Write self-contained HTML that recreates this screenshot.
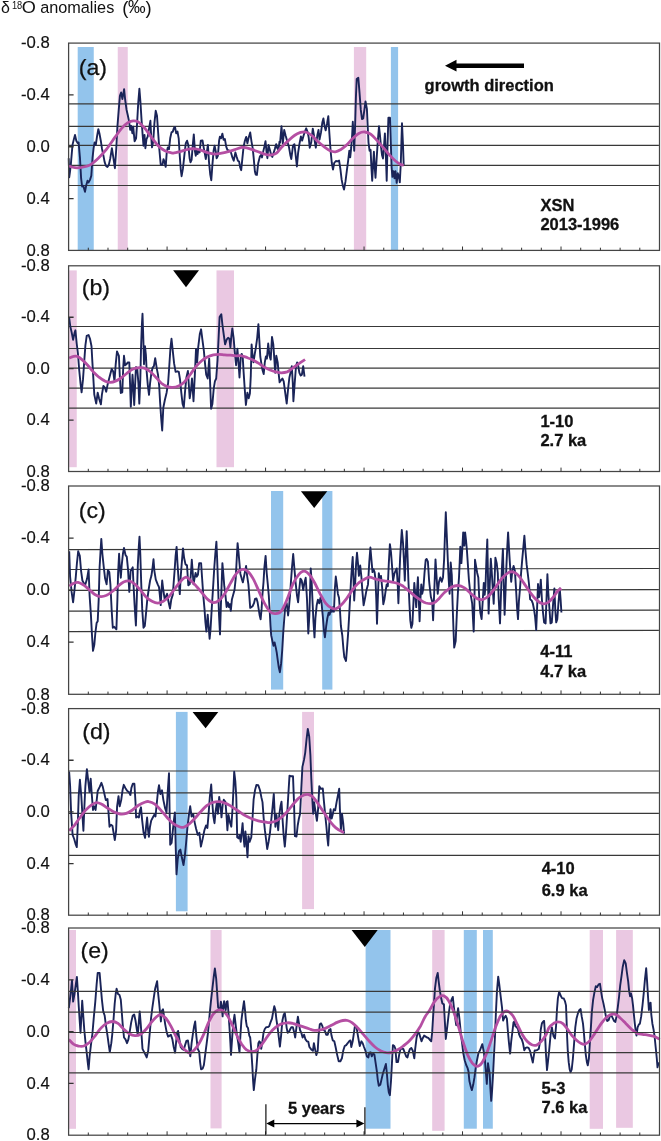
<!DOCTYPE html>
<html><head><meta charset="utf-8"><title>d18O anomalies</title>
<style>
html,body{margin:0;padding:0;background:#fff;}
svg{display:block;will-change:transform;opacity:0.999;}
text{font-family:"Liberation Sans",sans-serif;fill:#111;}
.b{font-weight:bold;font-size:16.5px;stroke:#111;stroke-width:0.3px;}
.y{font-size:16px;text-anchor:end;stroke:#111;stroke-width:0.15px;}
.p{font-size:22px;stroke:#111;stroke-width:0.25px;}
</style></head><body>
<svg width="661" height="1141" viewBox="0 0 661 1141">
<rect x="0" y="0" width="661" height="1141" fill="#ffffff"/>
<text x="0.9" y="13.3" font-size="16">δ</text><text x="11.9" y="8.5" font-size="10.6" textLength="10.3" lengthAdjust="spacingAndGlyphs">18</text><text x="21.7" y="13.3" font-size="15.6" textLength="14.1" lengthAdjust="spacingAndGlyphs">O</text><text x="40.2" y="13.3" font-size="16.25">anomalies</text>
<text y="13.6" font-size="18.4" fill="#3a3a3a"><tspan x="122.2">(</tspan><tspan x="128.0" font-size="17.6" dy="-0.2">‰</tspan><tspan x="145.6" dy="0.2">)</tspan></text>
<rect x="77.70" y="47.00" width="16.05" height="203.00" fill="#93c4ec"/>
<rect x="117.75" y="47.00" width="10.00" height="203.00" fill="#eac8e2"/>
<rect x="353.90" y="47.00" width="12.30" height="203.00" fill="#eac8e2"/>
<rect x="390.90" y="47.00" width="7.20" height="203.00" fill="#93c4ec"/>
<line x1="68.6" y1="103.8" x2="658.9" y2="103.8" stroke="#383838" stroke-width="1.2"/>
<line x1="68.6" y1="126.3" x2="658.9" y2="126.3" stroke="#383838" stroke-width="1.2"/>
<line x1="68.6" y1="145.4" x2="658.9" y2="145.4" stroke="#383838" stroke-width="1.2"/>
<line x1="68.6" y1="165.4" x2="658.9" y2="165.4" stroke="#383838" stroke-width="1.2"/>
<line x1="68.6" y1="185.5" x2="658.9" y2="185.5" stroke="#383838" stroke-width="1.2"/>
<polyline points="68.7,158.2 69.2,177.4 70.0,171.5 70.8,164.9 72.5,144.9 73.7,139.9 75.0,134.9 76.3,140.7 77.5,142.9 78.6,142.4 80.0,158.2 81.1,178.2 82.1,186.5 83.3,185.7 85.0,191.8 86.3,184.9 87.5,180.7 88.6,182.4 90.0,179.9 91.3,175.7 92.5,158.2 93.6,148.2 94.6,142.4 95.8,144.9 97.0,136.6 98.3,129.1 99.4,133.3 100.8,140.7 101.9,148.2 103.3,154.9 104.6,161.9 105.9,165.7 107.4,166.9 108.8,164.9 110.3,158.2 111.9,148.2 113.3,157.4 114.9,168.2 116.3,148.2 117.4,126.6 118.6,111.6 119.9,95.8 121.1,92.5 122.4,99.1 124.1,89.2 125.2,100.0 126.6,110.0 127.9,115.8 129.1,121.6 130.2,129.9 131.2,125.8 132.4,133.3 133.2,126.6 134.6,141.2 136.1,138.3 137.1,123.3 138.2,103.3 139.4,88.7 140.4,101.6 141.6,120.8 142.7,135.8 143.5,145.7 144.5,134.9 145.4,148.2 146.5,139.1 147.7,136.6 149.0,128.6 150.4,120.8 151.2,136.6 152.0,147.4 153.2,141.6 154.4,123.3 155.7,110.8 157.0,115.8 158.2,133.3 159.4,149.9 160.7,164.5 162.4,164.9 163.5,159.1 164.4,161.6 165.7,166.9 166.8,151.6 167.8,147.4 169.0,149.1 170.2,138.3 171.5,132.4 172.8,131.6 174.0,127.9 175.0,126.9 176.2,133.3 177.5,131.6 178.7,138.3 179.7,154.9 180.8,169.9 181.6,176.2 183.0,168.2 184.6,153.2 185.8,143.2 187.1,140.7 188.3,144.9 189.6,158.2 190.5,162.4 191.6,159.9 192.8,144.9 193.8,134.4 195.0,151.6 195.8,155.7 196.6,150.7 197.6,154.1 198.6,150.2 199.6,152.4 200.8,140.7 202.5,140.4 203.8,148.2 204.9,154.1 205.8,159.1 206.9,151.6 207.9,144.9 209.1,163.2 210.3,174.9 211.3,180.2 212.4,164.9 213.6,150.7 214.6,145.7 215.8,151.6 216.6,158.2 217.9,155.7 219.1,140.7 219.9,136.6 221.1,138.3 222.4,133.6 223.6,139.9 224.9,139.1 226.2,146.6 227.4,149.9 229.1,150.7 230.7,151.6 232.4,157.4 233.7,160.7 235.4,152.4 236.6,156.6 237.9,160.7 239.1,161.6 240.2,167.4 241.2,170.2 242.4,158.2 243.6,146.6 244.9,140.7 246.2,136.9 247.4,143.2 248.5,138.3 250.2,132.4 251.5,141.6 252.7,148.2 253.7,158.2 254.9,171.5 255.7,174.5 256.9,174.9 258.2,163.2 259.9,156.6 261.0,154.9 262.0,157.4 263.2,151.6 264.4,146.6 265.5,141.2 266.5,151.6 267.4,158.2 268.5,144.9 269.9,149.9 271.2,154.9 272.3,156.9 273.5,153.2 274.8,149.1 276.2,144.1 277.3,148.2 278.5,149.9 279.5,141.6 280.1,142.6 281.5,126.3 282.8,143.6 284.2,130.0 285.6,135.5 287.3,141.6 288.9,146.7 290.3,154.9 291.3,159.0 293.0,145.7 294.4,144.2 295.4,152.8 296.9,166.5 298.1,152.8 299.5,143.6 300.9,136.5 302.2,140.6 303.6,135.5 305.0,131.4 306.2,128.3 307.7,132.4 308.7,137.5 309.7,147.7 311.2,142.6 312.8,128.7 313.8,134.4 314.8,141.6 315.8,147.7 317.3,135.5 318.5,130.0 319.5,139.6 321.0,132.4 322.4,122.2 323.4,118.5 324.6,126.3 325.7,130.4 327.1,123.2 328.3,116.1 329.3,132.4 330.6,150.8 331.8,163.0 333.0,169.6 334.2,163.0 335.9,161.0 337.5,161.4 339.1,160.6 340.4,169.2 341.6,179.4 342.8,185.5 344.0,189.6 345.5,181.4 346.9,170.2 348.1,161.0 349.3,150.8 350.2,157.3 351.2,147.7 352.2,134.4 352.8,121.8 353.6,136.5 354.2,150.8 355.1,126.3 355.9,97.7 356.7,78.9 358.3,77.7 359.6,93.6 360.8,109.9 362.0,119.1 363.2,118.5 364.5,108.9 365.5,101.4 366.9,108.9 367.7,126.3 368.5,142.6 369.6,150.8 370.6,149.8 371.4,167.1 372.2,180.8 373.2,163.0 373.9,151.8 374.7,167.1 375.5,177.7 376.5,161.0 377.7,142.6 379.0,126.3 380.0,135.5 381.0,146.7 382.0,154.9 383.0,158.5 384.1,144.7 384.9,133.4 385.9,156.9 386.7,180.8 387.5,146.7 388.4,117.7 390.0,117.7 390.8,142.6 391.6,167.1 392.4,176.9 393.5,171.2 394.5,178.4 395.5,171.2 396.7,182.9 397.8,173.3 398.8,176.3 399.8,182.4 400.8,163.0 401.4,142.6 402.0,123.2 402.9,142.6 403.7,165.1" fill="none" stroke="#1a2458" stroke-width="1.9" stroke-linejoin="round"/>
<path d="M68.7 166.0C69.7 166.3 72.8 167.5 75.0 167.7C77.1 167.9 79.1 167.8 81.6 167.4C84.1 166.9 87.2 166.4 90.0 164.9C92.7 163.4 95.5 160.9 98.3 158.2C101.1 155.6 103.8 152.5 106.6 149.1C109.4 145.6 112.4 140.9 114.9 137.4C117.4 134.0 119.4 130.8 121.6 128.3C123.8 125.8 126.3 123.7 128.2 122.4C130.2 121.2 131.6 120.9 133.2 120.8C134.9 120.7 136.3 120.7 138.2 121.9C140.2 123.2 142.7 125.7 144.9 128.3C147.1 130.8 149.3 134.5 151.5 137.4C153.8 140.3 156.0 143.5 158.2 145.7C160.4 148.0 162.6 149.5 164.9 150.7C167.1 151.9 170.0 152.5 171.5 152.9C173.1 153.3 172.7 153.1 174.2 152.9C175.6 152.7 177.9 152.1 180.0 151.6C182.1 151.0 184.4 150.0 186.6 149.6C188.9 149.1 191.1 148.7 193.3 148.7C195.5 148.8 197.5 149.2 200.0 149.9C202.5 150.6 205.8 152.2 208.3 152.9C210.8 153.6 212.7 154.0 214.9 154.1C217.2 154.1 219.4 153.6 221.6 153.2C223.8 152.8 226.0 152.2 228.2 151.6C230.5 151.0 232.7 150.3 234.9 149.6C237.1 148.9 239.6 147.7 241.6 147.4C243.5 147.1 244.6 147.5 246.6 147.9C248.5 148.3 251.0 149.2 253.2 149.9C255.4 150.7 257.6 151.6 259.9 152.4C262.1 153.2 264.6 154.1 266.5 154.6C268.5 155.0 269.9 155.1 271.5 154.9C273.2 154.7 274.9 154.4 276.5 153.2C278.1 152.0 279.3 149.7 281.1 147.7C282.9 145.8 285.0 143.6 287.3 141.6C289.5 139.6 292.2 137.0 294.4 135.5C296.6 133.9 298.7 133.0 300.5 132.4C302.4 131.8 303.8 131.5 305.6 132.0C307.5 132.5 309.7 133.9 311.8 135.5C313.8 137.1 315.8 139.7 317.9 141.6C319.9 143.5 322.0 145.2 324.0 146.7C326.1 148.2 328.3 149.9 330.1 150.8C332.0 151.6 333.6 152.0 335.3 151.8C337.0 151.6 338.5 150.9 340.4 149.8C342.2 148.6 344.4 146.9 346.5 145.1C348.5 143.2 350.6 140.5 352.6 138.5C354.7 136.6 356.7 134.5 358.7 133.4C360.8 132.3 362.8 131.8 364.9 132.0C366.9 132.2 369.0 133.0 371.0 134.4C373.0 135.9 375.1 138.4 377.1 140.6C379.2 142.8 381.2 145.3 383.3 147.7C385.3 150.1 387.3 152.7 389.4 154.9C391.4 157.1 393.6 159.4 395.5 161.0C397.4 162.6 399.3 163.8 400.6 164.5C402.0 165.1 403.2 165.0 403.7 165.1" fill="none" stroke="#b54fa3" stroke-width="2.8" stroke-linecap="butt" stroke-linejoin="round"/>
<rect x="68.6" y="43.1" width="590.9" height="207.3" fill="none" stroke="#454545" stroke-width="1.25"/>
<path d="M88.30 250.4v-2.7M107.99 250.4v-2.7M127.69 250.4v-2.7M147.39 250.4v-2.7M167.08 250.4v-3.9M186.78 250.4v-2.7M206.48 250.4v-2.7M226.17 250.4v-2.7M245.87 250.4v-2.7M265.57 250.4v-3.9M285.26 250.4v-2.7M304.96 250.4v-2.7M324.66 250.4v-2.7M344.35 250.4v-2.7M364.05 250.4v-3.9M383.75 250.4v-2.7M403.44 250.4v-2.7M423.14 250.4v-2.7M442.84 250.4v-2.7M462.53 250.4v-3.9M482.23 250.4v-2.7M501.93 250.4v-2.7M521.62 250.4v-2.7M541.32 250.4v-2.7M561.02 250.4v-3.9M580.71 250.4v-2.7M600.41 250.4v-2.7M620.11 250.4v-2.7M639.80 250.4v-2.7" stroke="#333" stroke-width="1" fill="none"/>
<path d="M68.6 94.93h5M68.6 146.75h5M68.6 198.58h5" stroke="#333" stroke-width="1.3" fill="none"/>
<text class="y" x="49.8" y="48.0" textLength="28.8" lengthAdjust="spacingAndGlyphs">-0.8</text>
<text class="y" x="49.8" y="100.0" textLength="28.8" lengthAdjust="spacingAndGlyphs">-0.4</text>
<text class="y" x="49.8" y="152.0" textLength="23.2" lengthAdjust="spacingAndGlyphs">0.0</text>
<text class="y" x="49.8" y="204.0" textLength="23.2" lengthAdjust="spacingAndGlyphs">0.4</text>
<text class="y" x="49.8" y="256.0" textLength="23.2" lengthAdjust="spacingAndGlyphs">0.8</text>
<text class="p" x="78.7" y="74.7" textLength="28.3" lengthAdjust="spacingAndGlyphs">(a)</text>
<text class="b" x="540.4" y="211" font-size="16.5">XSN</text>
<text class="b" x="540.4" y="230" font-size="16.5">2013-1996</text>
<rect x="69.20" y="270.40" width="7.55" height="196.80" fill="#eac8e2"/>
<rect x="216.50" y="270.40" width="17.50" height="196.80" fill="#eac8e2"/>
<line x1="68.6" y1="326.5" x2="658.9" y2="326.5" stroke="#383838" stroke-width="1.2"/>
<line x1="68.6" y1="348.5" x2="658.9" y2="348.5" stroke="#383838" stroke-width="1.2"/>
<line x1="68.6" y1="368.1" x2="658.9" y2="368.1" stroke="#383838" stroke-width="1.2"/>
<line x1="68.6" y1="388.1" x2="658.9" y2="388.1" stroke="#383838" stroke-width="1.2"/>
<line x1="68.6" y1="408.1" x2="658.9" y2="408.1" stroke="#383838" stroke-width="1.2"/>
<polyline points="69.2,318.0 70.3,326.5 71.6,332.1 73.1,339.7 74.5,333.1 75.4,330.3 76.7,343.5 77.9,353.0 79.2,370.0 80.5,383.2 81.6,392.3 83.0,379.4 84.3,360.5 85.4,345.4 86.7,335.9 88.6,335.0 90.0,338.8 91.5,346.3 92.4,362.4 93.4,379.4 94.3,394.6 96.2,403.6 97.7,392.7 99.0,398.3 100.9,404.4 101.9,394.6 103.4,386.0 105.1,387.9 106.2,391.7 107.5,385.1 108.9,379.4 110.4,373.8 111.7,369.0 113.2,371.5 114.5,381.3 115.7,364.3 117.0,351.4 118.9,355.8 119.8,375.6 120.8,393.0 122.3,392.3 123.2,368.1 124.0,355.8 125.1,365.2 126.5,364.3 127.8,362.4 129.3,362.4 130.1,385.1 130.8,406.8 131.8,388.9 132.5,374.7 133.5,388.9 134.2,405.0 135.2,383.2 135.9,367.1 137.2,368.1 138.4,383.2 139.3,403.6 140.3,379.4 141.0,349.2 141.8,326.5 142.5,313.8 143.3,337.8 144.0,364.3 145.0,346.3 145.9,354.8 146.7,371.9 147.8,385.1 149.0,394.9 150.1,383.2 151.4,372.8 152.6,367.7 153.9,366.2 155.2,358.2 156.7,368.1 158.0,374.7 159.2,386.0 160.1,402.1 161.1,417.2 162.2,430.5 163.3,407.8 164.8,400.2 166.6,392.7 168.1,383.2 169.4,364.3 170.5,347.3 171.5,338.8 172.8,351.1 174.1,363.4 175.6,371.9 177.5,371.3 178.8,371.9 180.0,379.4 181.3,392.7 182.6,404.0 183.8,407.4 185.1,390.8 186.4,377.5 187.9,370.9 189.7,398.3 191.1,388.9 192.0,378.5 193.5,401.2 194.8,375.6 196.0,349.2 197.1,362.4 198.2,347.3 199.8,334.0 201.1,329.3 202.4,339.7 203.9,351.1 204.9,362.4 206.2,374.7 207.7,378.5 209.2,358.6 210.2,385.1 211.1,408.7 212.4,404.0 213.7,388.9 214.9,381.3 216.2,378.5 217.5,360.5 218.7,335.9 219.6,317.0 221.3,314.2 222.4,324.6 223.8,335.0 225.1,344.4 226.6,339.7 228.1,337.8 229.4,338.8 230.4,347.3 231.3,336.9 232.3,328.4 233.6,337.8 234.7,351.1 236.1,365.2 237.4,348.8 238.5,362.4 239.5,377.5 240.8,356.7 241.7,353.9 242.7,356.7 243.6,371.9 244.6,387.0 245.9,405.0 247.4,392.7 248.7,398.3 249.9,393.6 250.8,375.6 251.6,344.4 252.5,354.8 253.5,362.4 254.6,354.8 255.9,347.3 257.2,337.8 258.4,324.2 259.3,339.7 260.3,356.7 261.2,362.4 262.5,370.0 263.7,374.1 264.8,362.4 265.9,356.4 266.9,358.6 268.2,343.5 269.5,355.8 270.7,359.6 272.0,336.9 273.3,344.4 274.3,358.6 275.2,372.8 276.3,355.8 277.7,362.4 278.6,372.8 279.6,382.3 280.9,380.4 282.4,378.5 283.7,381.3 285.2,392.7 286.7,403.6 288.1,388.9 289.4,377.5 290.9,370.9 291.8,366.2 292.8,383.2 293.4,401.2 294.7,383.2 296.0,366.2 297.1,362.4 298.1,365.2 299.4,372.8 300.7,375.6 301.9,374.7 303.2,366.2 304.5,376.6" fill="none" stroke="#1a2458" stroke-width="1.9" stroke-linejoin="round"/>
<path d="M69.2 358.2C69.9 357.9 72.2 356.7 73.5 356.4C74.9 356.0 75.9 355.8 77.3 356.4C78.7 356.9 80.3 358.1 82.0 359.6C83.8 361.1 85.8 363.2 87.7 365.2C89.6 367.3 91.5 369.9 93.4 371.9C95.3 373.8 97.1 375.6 99.0 377.2C100.9 378.7 102.8 380.1 104.7 380.9C106.6 381.8 108.5 382.3 110.4 382.3C112.3 382.3 114.2 381.7 116.1 380.9C118.0 380.2 119.8 378.9 121.7 377.5C123.6 376.2 125.5 374.2 127.4 372.8C129.3 371.4 131.0 369.9 133.1 369.0C135.1 368.2 137.8 367.9 139.7 367.7C141.6 367.5 142.7 367.4 144.4 368.1C146.2 368.7 148.2 370.0 150.1 371.5C152.0 373.0 153.9 375.2 155.8 377.2C157.7 379.1 159.6 381.6 161.4 383.2C163.3 384.8 165.2 385.9 167.1 386.6C169.0 387.3 170.9 387.5 172.8 387.4C174.7 387.3 176.6 386.9 178.5 386.0C180.4 385.2 182.1 384.3 184.1 382.3C186.2 380.2 188.6 376.4 190.7 373.8C192.7 371.1 194.5 368.4 196.3 366.2C198.2 364.0 200.1 362.1 202.0 360.5C203.9 358.9 205.8 357.7 207.7 356.7C209.6 355.8 211.5 355.3 213.4 354.8C215.3 354.4 217.1 354.3 219.0 354.3C220.9 354.3 222.8 354.7 224.7 354.8C226.6 355.0 228.5 355.1 230.4 355.2C232.3 355.4 234.2 355.7 236.1 355.8C238.0 355.9 239.8 355.5 241.7 355.8C243.6 356.1 245.5 357.0 247.4 357.7C249.3 358.4 251.2 359.2 253.1 360.1C255.0 361.1 256.9 362.2 258.8 363.4C260.6 364.5 262.5 366.0 264.4 367.1C266.3 368.2 268.2 369.2 270.1 370.0C272.0 370.8 273.9 371.4 275.8 371.9C277.7 372.3 279.6 372.8 281.4 372.8C283.3 372.8 285.2 372.6 287.1 371.9C289.0 371.1 290.9 369.4 292.8 368.1C294.7 366.8 296.4 365.3 298.5 363.9C300.5 362.5 304.0 360.3 305.1 359.6" fill="none" stroke="#b54fa3" stroke-width="2.8" stroke-linecap="butt" stroke-linejoin="round"/>
<rect x="68.6" y="265.8" width="590.9" height="205.7" fill="none" stroke="#454545" stroke-width="1.25"/>
<path d="M88.30 471.5v-2.7M107.99 471.5v-2.7M127.69 471.5v-2.7M147.39 471.5v-2.7M167.08 471.5v-3.9M186.78 471.5v-2.7M206.48 471.5v-2.7M226.17 471.5v-2.7M245.87 471.5v-2.7M265.57 471.5v-3.9M285.26 471.5v-2.7M304.96 471.5v-2.7M324.66 471.5v-2.7M344.35 471.5v-2.7M364.05 471.5v-3.9M383.75 471.5v-2.7M403.44 471.5v-2.7M423.14 471.5v-2.7M442.84 471.5v-2.7M462.53 471.5v-3.9M482.23 471.5v-2.7M501.93 471.5v-2.7M521.62 471.5v-2.7M541.32 471.5v-2.7M561.02 471.5v-3.9M580.71 471.5v-2.7M600.41 471.5v-2.7M620.11 471.5v-2.7M639.80 471.5v-2.7" stroke="#333" stroke-width="1" fill="none"/>
<path d="M68.6 317.23h5M68.6 368.65h5M68.6 420.07h5" stroke="#333" stroke-width="1.3" fill="none"/>
<text class="y" x="49.8" y="271.0" textLength="28.8" lengthAdjust="spacingAndGlyphs">-0.8</text>
<text class="y" x="49.8" y="322.0" textLength="28.8" lengthAdjust="spacingAndGlyphs">-0.4</text>
<text class="y" x="49.8" y="374.0" textLength="23.2" lengthAdjust="spacingAndGlyphs">0.0</text>
<text class="y" x="49.8" y="425.0" textLength="23.2" lengthAdjust="spacingAndGlyphs">0.4</text>
<text class="y" x="49.8" y="477.0" textLength="23.2" lengthAdjust="spacingAndGlyphs">0.8</text>
<text class="p" x="81.7" y="295.3" textLength="28.3" lengthAdjust="spacingAndGlyphs">(b)</text>
<path d="M173.1 270.2L199.0 270.2L186.0 287.2Z" fill="#000"/>
<text class="b" x="540.4" y="427" font-size="16.6">1-10</text>
<text class="b" x="540.4" y="446" font-size="16.6">2.7 ka</text>
<rect x="271.00" y="491.00" width="12.20" height="198.60" fill="#93c4ec"/>
<rect x="322.20" y="491.00" width="10.20" height="198.60" fill="#93c4ec"/>
<line x1="68.6" y1="549.7" x2="658.9" y2="548.5" stroke="#383838" stroke-width="1.2"/>
<line x1="68.6" y1="569.5" x2="658.9" y2="568.5" stroke="#383838" stroke-width="1.2"/>
<line x1="68.6" y1="590.3" x2="658.9" y2="589.7" stroke="#383838" stroke-width="1.2"/>
<line x1="68.6" y1="611.2" x2="658.9" y2="610.1" stroke="#383838" stroke-width="1.2"/>
<line x1="68.6" y1="631.6" x2="658.9" y2="630.3" stroke="#383838" stroke-width="1.2"/>
<polyline points="69.2,551.2 70.1,576.7 71.6,591.9 73.1,602.3 74.5,590.0 75.8,576.7 76.9,563.5 78.2,551.2 79.8,555.9 81.1,571.1 82.4,580.5 83.9,583.4 85.4,584.3 87.1,578.6 88.6,569.5 89.6,595.6 90.9,614.6 92.0,635.4 93.0,650.9 94.3,644.8 95.3,633.5 96.6,623.1 97.7,621.2 98.7,599.4 99.6,567.3 100.6,550.3 101.3,538.9 102.4,554.0 103.8,567.3 105.1,578.6 106.6,584.3 107.9,570.1 109.3,572.0 110.4,584.3 111.7,610.8 112.8,627.8 114.2,626.8 115.1,627.8 116.4,629.3 117.4,599.4 118.1,573.0 119.1,553.7 119.8,567.3 120.8,577.7 121.7,565.4 122.9,554.0 124.0,548.0 125.5,555.0 126.8,556.9 128.0,569.2 129.3,591.9 130.6,571.1 131.6,569.5 132.7,567.3 133.6,586.2 134.6,605.1 135.9,625.5 136.9,595.6 137.8,565.4 138.8,546.5 139.5,536.6 140.3,554.0 141.2,582.4 142.2,608.9 143.5,627.8 144.8,625.9 145.9,614.6 147.3,599.4 148.6,590.0 150.1,580.5 151.4,575.8 152.6,567.3 153.5,559.3 154.4,571.1 155.8,579.6 157.7,584.3 159.0,587.1 159.9,595.6 160.7,605.1 161.4,591.9 162.2,580.5 163.3,590.0 164.7,599.4 165.8,596.6 167.1,593.8 168.4,601.3 170.0,608.5 171.3,599.4 172.8,594.7 173.7,582.4 174.7,569.2 175.6,555.9 176.6,546.9 177.5,563.5 178.5,578.6 179.8,594.1 180.7,576.7 181.9,561.6 183.0,548.4 184.1,557.8 185.5,564.4 187.0,565.4 188.3,585.2 188.4,585.2 189.7,584.3 190.7,576.7 191.8,559.7 192.9,574.8 193.5,584.3 194.5,578.6 195.6,573.0 196.7,576.7 197.9,574.8 199.2,563.1 201.1,563.1 202.0,576.7 203.3,595.6 204.5,608.9 205.4,622.1 206.4,631.6 207.7,614.6 208.6,625.9 209.6,638.8 210.5,629.7 211.5,612.7 212.8,591.9 214.3,567.3 215.3,554.0 216.4,541.7 217.1,557.8 218.1,586.2 219.0,614.6 220.0,634.4 220.9,605.1 221.9,576.7 222.4,563.1 223.4,574.8 224.3,586.2 225.5,595.6 226.6,607.0 227.9,602.3 228.9,607.0 229.8,604.2 230.8,610.8 231.9,599.4 233.2,594.7 234.5,590.0 235.7,578.6 236.8,557.8 237.6,543.1 238.5,552.1 239.5,563.5 240.4,573.9 241.7,578.6 242.9,582.4 244.0,576.7 245.1,571.1 246.1,566.0 247.0,574.8 248.4,584.3 249.3,595.6 250.2,607.9 251.6,607.0 252.7,606.0 254.0,603.2 255.0,599.0 256.5,598.5 257.6,602.3 258.8,609.8 259.7,615.5 260.6,619.3 261.6,608.9 262.5,593.8 263.5,582.4 264.4,567.3 265.6,555.9 266.7,573.0 267.8,584.3 268.8,595.6 269.7,610.8 270.5,625.9 271.2,635.4 272.4,641.0 273.5,645.8 274.6,642.5 275.8,647.6 276.7,652.4 277.7,659.9 278.8,667.5 279.9,672.2 281.1,663.7 282.2,650.5 283.3,631.6 284.3,618.3 285.2,607.0 286.7,603.2 288.1,615.5 289.0,607.0 290.0,595.6 290.9,582.4 292.0,567.3 293.2,554.0 294.3,567.3 295.6,582.4 297.0,595.6 298.1,602.3 299.2,590.0 300.4,578.6 301.7,580.5 303.2,590.0 304.5,582.4 305.7,577.7 307.0,599.4 308.3,633.5 309.4,614.6 310.7,568.4 311.6,580.6 312.6,603.3 313.5,622.2 314.5,637.4 315.4,618.5 316.7,605.2 317.9,599.6 319.2,603.3 320.5,597.7 321.6,603.3 323.0,618.5 323.9,629.8 324.9,637.4 326.2,626.0 327.3,618.5 328.6,612.8 329.6,614.7 330.9,610.0 332.0,611.8 333.0,607.1 333.9,611.8 334.9,588.2 335.8,576.5 336.8,584.4 337.9,593.9 339.0,597.7 340.0,610.9 340.9,626.0 342.3,635.5 343.4,648.7 344.3,657.2 346.0,661.0 347.0,648.7 348.1,633.6 349.1,616.6 350.0,599.6 351.0,580.6 351.9,567.4 352.7,557.0 353.4,576.9 354.2,600.5 355.1,584.4 356.1,563.6 357.0,552.8 358.0,563.6 358.9,575.9 360.2,565.5 361.4,576.9 362.3,590.1 363.6,605.2 365.1,597.7 366.5,590.1 368.0,584.4 369.3,561.7 370.4,547.5 371.6,561.7 372.5,572.1 373.5,569.3 374.6,572.1 375.5,579.7 376.3,599.6 377.0,623.8 377.8,599.6 378.8,573.1 379.9,579.7 381.0,575.9 382.2,588.2 383.3,604.3 384.4,599.6 385.6,591.0 386.7,584.4 387.8,586.3 388.8,563.6 389.9,544.1 391.0,552.3 392.0,565.5 393.1,580.6 394.3,574.0 395.4,571.2 396.7,568.4 397.7,584.4 398.4,603.3 399.2,580.6 400.1,558.0 401.1,540.9 401.8,530.0 403.0,542.8 403.9,559.8 404.8,580.6 405.8,552.3 406.7,531.1 407.5,554.2 408.4,580.6 409.4,603.3 410.3,620.4 411.3,627.9 412.4,624.1 413.4,603.3 414.3,582.9 415.2,593.9 416.2,607.1 417.1,590.1 417.9,577.2 418.8,599.6 419.6,621.3 420.4,599.6 421.3,584.4 422.2,593.9 423.4,588.2 424.5,573.1 425.7,559.8 426.6,558.9 427.9,561.7 429.1,580.6 429.4,584.0 430.9,597.1 432.2,601.5 433.1,620.2 434.2,592.7 435.5,559.4 436.6,577.4 437.7,593.8 439.0,581.8 440.4,577.4 441.7,581.8 443.0,577.4 444.1,559.8 445.0,533.5 445.8,512.2 446.7,533.5 447.8,559.8 448.7,579.6 449.6,593.8 450.7,562.5 451.8,575.2 452.6,603.7 453.5,630.0 454.2,647.6 455.7,641.0 456.8,614.7 457.9,592.7 459.0,577.4 459.7,562.0 460.3,546.7 461.4,563.1 462.3,548.9 463.2,532.4 464.3,545.6 465.1,532.4 466.0,540.1 466.9,550.0 468.0,566.4 468.9,579.6 470.0,590.5 471.1,597.1 472.2,603.7 473.0,619.1 473.7,631.6 474.4,603.7 475.0,559.8 476.1,566.4 477.2,573.0 478.3,577.4 479.2,597.1 480.3,612.5 481.6,619.1 482.7,601.5 483.8,582.9 484.7,594.9 485.5,586.2 486.4,559.8 487.3,539.4 488.0,577.4 488.6,613.6 489.7,586.2 490.8,558.7 491.7,570.8 492.6,586.2 493.7,603.7 494.5,581.8 495.4,557.6 496.7,563.1 497.8,573.0 498.7,599.3 500.0,623.4 500.9,597.1 501.8,570.8 502.9,548.9 503.7,581.8 504.6,614.7 505.5,592.7 506.4,566.4 507.3,546.7 508.1,532.4 509.0,548.9 510.1,566.4 511.2,581.8 512.3,570.8 513.6,566.0 514.9,570.8 516.0,588.4 517.1,608.1 518.0,619.1 518.9,601.5 520.0,588.4 521.1,573.0 522.2,559.8 523.3,547.8 524.4,535.7 525.5,551.1 526.6,564.2 527.7,573.0 529.0,584.0 530.1,599.3 531.6,600.4 532.9,603.7 534.0,609.2 535.1,616.9 536.2,630.0 537.1,608.1 538.0,584.0 539.1,597.1 539.9,590.5 540.8,579.6 541.9,599.3 543.0,612.5 544.1,622.4 545.6,623.4 546.5,599.3 547.4,574.1 548.3,592.7 549.4,608.1 550.5,623.4 551.8,622.4 553.1,603.7 554.4,588.4 555.3,610.3 556.2,622.4 557.3,619.1 558.4,603.7 559.7,588.4 560.6,599.3 561.4,612.5" fill="none" stroke="#1a2458" stroke-width="1.9" stroke-linejoin="round"/>
<path d="M69.2 586.2C69.9 585.7 72.0 584.0 73.5 583.4C75.0 582.7 76.5 582.1 78.2 582.4C80.0 582.7 82.0 584.0 83.9 585.2C85.8 586.5 87.7 588.4 89.6 590.0C91.5 591.5 93.4 593.6 95.3 594.7C97.1 595.8 99.0 596.5 100.9 596.6C102.8 596.7 104.7 596.1 106.6 595.3C108.5 594.4 110.4 593.0 112.3 591.5C114.2 590.0 116.1 587.8 118.0 586.2C119.8 584.6 121.7 582.9 123.6 582.0C125.5 581.1 127.4 580.5 129.3 580.9C131.2 581.3 133.1 582.7 135.0 584.3C136.9 585.9 138.8 588.2 140.6 590.3C142.5 592.5 144.4 595.3 146.3 597.2C148.2 599.0 150.1 600.3 152.0 601.3C153.9 602.3 155.8 603.2 157.7 603.2C159.6 603.2 161.4 602.4 163.3 601.3C165.2 600.2 167.1 598.6 169.0 596.6C170.9 594.5 172.8 591.5 174.7 589.0C176.6 586.5 178.5 583.4 180.4 581.5C182.2 579.5 184.3 577.3 186.0 577.1C187.7 577.0 189.0 579.0 190.7 580.5C192.4 582.0 194.5 584.1 196.3 586.2C198.2 588.2 200.1 590.6 202.0 592.8C203.9 595.0 205.8 597.8 207.7 599.4C209.6 601.1 211.5 602.5 213.4 602.6C215.3 602.8 217.1 601.9 219.0 600.4C220.9 598.9 222.8 596.6 224.7 593.8C226.6 590.9 228.5 586.7 230.4 583.4C232.3 580.0 234.2 576.2 236.1 573.9C238.0 571.6 239.8 570.0 241.7 569.5C243.6 569.1 245.5 569.5 247.4 571.1C249.3 572.6 251.2 575.3 253.1 578.6C255.0 581.9 256.9 586.8 258.8 590.9C260.6 595.0 262.5 599.7 264.4 603.2C266.3 606.7 268.2 610.0 270.1 611.7C272.0 613.5 273.9 613.8 275.8 613.6C277.7 613.5 279.6 613.1 281.4 610.8C283.3 608.4 285.2 603.8 287.1 599.4C289.0 595.0 290.9 588.4 292.8 584.3C294.7 580.2 296.6 577.0 298.5 574.8C300.4 572.6 302.3 571.0 304.1 571.1C306.0 571.1 308.0 573.1 309.7 575.0C311.4 576.9 312.7 579.4 314.5 582.5C316.2 585.7 318.2 590.4 320.1 593.9C322.0 597.3 323.9 601.0 325.8 603.3C327.7 605.7 329.7 607.2 331.5 608.1C333.2 608.9 334.6 609.1 336.2 608.6C337.8 608.2 339.2 606.9 340.9 605.2C342.7 603.6 344.7 601.1 346.6 598.6C348.5 596.1 350.4 592.6 352.3 590.1C354.2 587.6 356.1 585.2 358.0 583.5C359.8 581.7 361.7 580.7 363.6 579.7C365.5 578.7 367.4 577.4 369.3 577.2C371.2 577.1 373.1 578.2 375.0 578.8C376.9 579.3 378.8 579.9 380.6 580.3C382.5 580.7 384.4 580.9 386.3 581.2C388.2 581.5 390.1 581.8 392.0 582.2C393.9 582.5 395.8 582.8 397.7 583.5C399.6 584.2 401.4 585.1 403.3 586.3C405.2 587.6 407.1 589.5 409.0 591.0C410.9 592.6 412.8 594.3 414.7 595.8C416.6 597.3 418.5 598.7 420.4 599.9C422.2 601.1 423.8 602.4 426.0 603.0C428.3 603.5 431.6 603.8 433.8 603.0C436.0 602.3 437.4 600.0 439.3 598.2C441.1 596.4 442.7 594.1 444.7 592.3C446.8 590.5 449.1 588.4 451.3 587.3C453.5 586.1 455.7 585.4 457.9 585.5C460.1 585.6 462.3 586.5 464.5 587.9C466.7 589.3 468.9 592.0 471.1 593.8C473.3 595.7 475.6 598.0 477.6 598.9C479.7 599.8 481.3 599.8 483.1 599.3C485.0 598.8 486.6 597.9 488.6 596.0C490.6 594.1 493.0 590.8 495.2 587.9C497.4 585.0 499.6 581.0 501.8 578.5C504.0 575.9 506.5 573.7 508.4 572.6C510.2 571.5 511.1 571.5 512.7 571.9C514.4 572.3 516.4 573.4 518.2 575.2C520.1 577.0 521.7 579.9 523.7 582.9C525.7 585.8 528.1 589.8 530.3 592.7C532.5 595.7 534.9 598.6 536.9 600.4C538.9 602.2 540.5 603.3 542.4 603.7C544.2 604.1 546.0 603.7 547.8 602.6C549.7 601.5 551.7 599.1 553.3 597.1C555.0 595.2 556.4 592.4 557.7 591.0C559.1 589.5 560.8 588.8 561.4 588.4" fill="none" stroke="#b54fa3" stroke-width="2.8" stroke-linecap="butt" stroke-linejoin="round"/>
<rect x="68.6" y="486.0" width="590.9" height="208.29999999999995" fill="none" stroke="#454545" stroke-width="1.25"/>
<path d="M88.30 694.3v-2.7M107.99 694.3v-2.7M127.69 694.3v-2.7M147.39 694.3v-2.7M167.08 694.3v-3.9M186.78 694.3v-2.7M206.48 694.3v-2.7M226.17 694.3v-2.7M245.87 694.3v-2.7M265.57 694.3v-3.9M285.26 694.3v-2.7M304.96 694.3v-2.7M324.66 694.3v-2.7M344.35 694.3v-2.7M364.05 694.3v-3.9M383.75 694.3v-2.7M403.44 694.3v-2.7M423.14 694.3v-2.7M442.84 694.3v-2.7M462.53 694.3v-3.9M482.23 694.3v-2.7M501.93 694.3v-2.7M521.62 694.3v-2.7M541.32 694.3v-2.7M561.02 694.3v-3.9M580.71 694.3v-2.7M600.41 694.3v-2.7M620.11 694.3v-2.7M639.80 694.3v-2.7" stroke="#333" stroke-width="1" fill="none"/>
<path d="M68.6 538.08h5M68.6 590.15h5M68.6 642.22h5" stroke="#333" stroke-width="1.3" fill="none"/>
<text class="y" x="49.8" y="491.0" textLength="28.8" lengthAdjust="spacingAndGlyphs">-0.8</text>
<text class="y" x="49.8" y="543.0" textLength="28.8" lengthAdjust="spacingAndGlyphs">-0.4</text>
<text class="y" x="49.8" y="595.0" textLength="23.2" lengthAdjust="spacingAndGlyphs">0.0</text>
<text class="y" x="49.8" y="647.0" textLength="23.2" lengthAdjust="spacingAndGlyphs">0.4</text>
<text class="y" x="49.8" y="700.0" textLength="23.2" lengthAdjust="spacingAndGlyphs">0.8</text>
<text class="p" x="78.7" y="517.6" textLength="27.0" lengthAdjust="spacingAndGlyphs">(c)</text>
<path d="M300.9 491.2L327.3 491.2L314.2 508.0Z" fill="#000"/>
<text class="b" x="540.3" y="657" font-size="16.5">4-11</text>
<text class="b" x="540.3" y="677" font-size="16.5">4.7 ka</text>
<rect x="175.90" y="711.90" width="11.70" height="199.40" fill="#93c4ec"/>
<rect x="302.10" y="711.90" width="11.90" height="197.20" fill="#eac8e2"/>
<line x1="68.6" y1="771.0" x2="658.9" y2="771.0" stroke="#383838" stroke-width="1.2"/>
<line x1="68.6" y1="792.9" x2="658.9" y2="792.9" stroke="#383838" stroke-width="1.2"/>
<line x1="68.6" y1="813.3" x2="658.9" y2="813.3" stroke="#383838" stroke-width="1.2"/>
<line x1="68.6" y1="834.4" x2="658.9" y2="834.4" stroke="#383838" stroke-width="1.2"/>
<line x1="68.6" y1="855.4" x2="658.9" y2="855.4" stroke="#383838" stroke-width="1.2"/>
<polyline points="69.1,771.6 70.1,785.8 71.1,812.4 72.6,834.9 74.2,839.0 75.6,844.1 76.8,847.1 77.7,826.7 78.7,796.1 79.9,779.7 81.3,796.1 82.4,814.4 83.4,830.8 84.4,806.3 85.4,785.8 86.9,769.1 88.1,779.7 89.5,792.0 90.7,778.7 91.6,792.0 93.0,810.0 94.2,806.3 95.6,810.0 96.7,800.1 97.7,791.0 99.7,786.9 101.4,782.8 102.8,786.9 104.2,793.0 105.8,800.1 107.5,799.1 108.5,812.4 109.5,826.7 111.0,824.7 112.4,825.7 113.6,832.8 114.8,840.0 116.1,830.8 117.1,806.3 118.5,796.1 119.7,806.3 121.2,800.1 122.6,789.9 123.8,784.8 125.3,787.9 127.3,791.0 128.9,792.0 130.4,795.0 131.4,787.9 132.8,783.8 134.4,783.8 135.5,802.2 136.1,817.5 137.5,816.5 138.9,817.5 140.0,810.4 141.0,807.3 142.2,820.6 143.6,832.8 145.1,837.9 146.1,826.7 147.1,817.5 148.1,830.8 148.9,836.9 150.0,826.7 151.2,820.6 152.8,817.5 154.5,814.4 155.5,816.5 156.9,802.2 157.9,792.0 159.0,785.2 160.4,794.0 162.0,790.3 163.4,800.1 165.1,808.3 166.5,812.4 167.7,792.0 169.0,773.2 169.6,810.4 170.2,844.7 171.6,843.0 172.8,830.8 174.1,818.5 174.9,812.4 175.7,847.1 176.5,874.3 177.7,859.4 179.0,851.2 180.4,849.6 181.8,857.3 183.5,865.1 184.9,855.3 186.1,843.0 187.5,826.7 189.0,814.4 190.2,806.3 191.6,816.5 193.3,814.4 194.7,822.6 196.1,828.7 197.8,834.9 199.4,832.8 200.9,846.6 202.5,839.6 204.4,830.2 206.0,825.5 207.4,827.9 208.6,813.8 209.8,797.4 211.2,784.5 212.1,799.7 213.3,816.1 214.5,823.2 215.6,811.5 216.8,803.2 218.0,813.8 219.2,796.9 220.8,809.1 221.5,817.3 222.7,804.4 223.8,799.7 225.5,802.1 226.7,818.5 227.4,830.2 228.5,815.0 230.2,823.2 231.3,826.7 232.5,809.1 233.5,788.0 234.2,771.6 235.3,781.0 236.3,797.4 237.2,837.2 238.6,838.4 239.6,834.9 240.7,841.9 241.9,830.2 242.6,823.2 243.5,837.2 244.5,846.6 245.4,831.4 246.4,841.9 247.5,857.2 248.5,836.1 249.6,841.9 251.3,837.2 252.5,818.5 253.6,799.7 255.0,790.3 256.4,785.0 258.3,785.2 260.0,790.3 261.4,797.4 262.5,802.1 263.7,818.5 264.9,830.2 266.1,839.6 267.2,849.0 268.6,841.9 270.0,832.6 271.4,818.5 272.6,806.8 273.8,793.9 274.7,813.8 275.4,826.7 276.4,815.0 277.5,823.2 278.2,830.2 279.4,813.8 280.6,805.6 281.5,801.6 282.5,818.5 283.6,834.9 284.8,846.6 286.0,832.6 287.2,813.8 288.3,795.0 289.5,775.6 291.1,776.3 293.0,776.3 294.0,802.1 294.9,836.1 296.5,836.5 297.7,825.5 298.9,818.5 300.1,813.8 301.2,790.3 302.4,766.9 304.0,759.9 305.2,752.8 306.6,738.8 307.8,728.9 309.2,736.4 310.4,755.2 311.3,778.6 312.2,797.4 313.2,813.8 314.1,802.1 315.5,811.5 316.9,820.8 318.1,809.1 319.3,786.1 320.7,788.7 322.8,788.5 324.0,802.1 325.1,813.8 326.3,825.5 327.3,837.2 328.2,845.5 329.4,823.2 330.5,809.1 331.7,818.5 332.9,813.8 333.8,809.1 335.2,810.3 336.6,802.1 338.0,795.0 339.2,788.7 339.9,809.1 340.9,830.2 342.0,813.8 343.2,823.2 344.1,833.7" fill="none" stroke="#1a2458" stroke-width="1.9" stroke-linejoin="round"/>
<path d="M69.1 830.8C69.9 829.9 72.5 827.7 74.2 825.7C75.9 823.6 77.4 821.1 79.3 818.5C81.2 816.0 83.4 812.6 85.4 810.4C87.5 808.1 89.7 806.1 91.6 804.8C93.4 803.6 95.0 802.7 96.7 802.6C98.4 802.5 99.9 803.3 101.8 804.2C103.6 805.2 105.8 807.0 107.9 808.3C109.9 809.6 112.0 811.0 114.0 812.0C116.1 812.9 118.1 813.8 120.1 814.0C122.2 814.3 124.2 814.1 126.3 813.4C128.3 812.7 130.4 811.3 132.4 810.0C134.4 808.6 136.5 806.5 138.5 805.3C140.6 804.0 143.0 802.8 144.7 802.2C146.4 801.6 147.0 801.2 148.7 801.6C150.4 801.9 152.8 802.8 154.9 804.2C156.9 805.7 159.0 808.1 161.0 810.4C163.0 812.6 165.1 815.3 167.1 817.5C169.2 819.7 171.2 822.1 173.3 823.6C175.3 825.2 177.7 826.1 179.4 826.7C181.1 827.3 181.8 827.8 183.5 827.3C185.2 826.8 187.5 825.3 189.6 823.6C191.6 822.0 193.8 819.5 195.7 817.5C197.6 815.5 199.0 813.4 200.9 811.5C202.7 809.5 204.8 807.1 206.7 805.6C208.7 804.1 210.6 803.2 212.6 802.5C214.5 801.9 216.5 801.6 218.4 801.6C220.4 801.6 222.4 802.1 224.3 802.8C226.3 803.4 228.0 804.3 230.2 805.6C232.3 806.8 234.9 808.7 237.2 810.3C239.6 811.8 241.9 813.6 244.2 815.0C246.6 816.3 248.9 817.5 251.3 818.5C253.6 819.5 256.0 820.2 258.3 820.8C260.7 821.4 263.4 821.7 265.3 822.0C267.3 822.3 268.1 822.7 270.0 822.5C272.0 822.2 274.7 821.6 277.1 820.4C279.4 819.1 281.8 817.2 284.1 815.0C286.5 812.7 288.8 809.5 291.1 806.8C293.5 804.0 296.0 800.5 298.2 798.6C300.3 796.6 302.3 795.7 304.0 795.0C305.8 794.4 307.2 794.2 308.7 794.6C310.3 795.0 311.7 795.5 313.4 797.4C315.2 799.2 317.1 802.5 319.3 805.6C321.4 808.7 324.0 812.8 326.3 816.1C328.7 819.5 331.2 823.2 333.4 825.5C335.5 827.9 337.4 829.0 339.2 830.2C341.0 831.4 343.3 832.2 344.1 832.6" fill="none" stroke="#b54fa3" stroke-width="2.8" stroke-linecap="butt" stroke-linejoin="round"/>
<rect x="68.6" y="708.6" width="590.9" height="206.60000000000002" fill="none" stroke="#454545" stroke-width="1.25"/>
<path d="M88.30 915.2v-2.7M107.99 915.2v-2.7M127.69 915.2v-2.7M147.39 915.2v-2.7M167.08 915.2v-3.9M186.78 915.2v-2.7M206.48 915.2v-2.7M226.17 915.2v-2.7M245.87 915.2v-2.7M265.57 915.2v-3.9M285.26 915.2v-2.7M304.96 915.2v-2.7M324.66 915.2v-2.7M344.35 915.2v-2.7M364.05 915.2v-3.9M383.75 915.2v-2.7M403.44 915.2v-2.7M423.14 915.2v-2.7M442.84 915.2v-2.7M462.53 915.2v-3.9M482.23 915.2v-2.7M501.93 915.2v-2.7M521.62 915.2v-2.7M541.32 915.2v-2.7M561.02 915.2v-3.9M580.71 915.2v-2.7M600.41 915.2v-2.7M620.11 915.2v-2.7M639.80 915.2v-2.7" stroke="#333" stroke-width="1" fill="none"/>
<path d="M68.6 760.25h5M68.6 811.90h5M68.6 863.55h5" stroke="#333" stroke-width="1.3" fill="none"/>
<text class="y" x="49.8" y="714.0" textLength="28.8" lengthAdjust="spacingAndGlyphs">-0.8</text>
<text class="y" x="49.8" y="765.0" textLength="28.8" lengthAdjust="spacingAndGlyphs">-0.4</text>
<text class="y" x="49.8" y="817.0" textLength="23.2" lengthAdjust="spacingAndGlyphs">0.0</text>
<text class="y" x="49.8" y="869.0" textLength="23.2" lengthAdjust="spacingAndGlyphs">0.4</text>
<text class="y" x="49.8" y="920.0" textLength="23.2" lengthAdjust="spacingAndGlyphs">0.8</text>
<text class="p" x="82.2" y="739.2" textLength="28.3" lengthAdjust="spacingAndGlyphs">(d)</text>
<path d="M192.6 711.9L218.3 711.9L205.6 728.2Z" fill="#000"/>
<text class="b" x="541.7" y="874" font-size="17.8">4-10</text>
<text class="b" x="541.7" y="896" font-size="17.8">6.9 ka</text>
<rect x="69.20" y="930.00" width="6.80" height="198.80" fill="#eac8e2"/>
<rect x="210.50" y="930.00" width="11.10" height="198.40" fill="#eac8e2"/>
<rect x="365.60" y="930.00" width="24.90" height="198.70" fill="#93c4ec"/>
<rect x="432.20" y="930.00" width="12.40" height="200.80" fill="#eac8e2"/>
<rect x="463.80" y="930.00" width="13.00" height="198.70" fill="#93c4ec"/>
<rect x="483.00" y="930.00" width="9.80" height="198.70" fill="#93c4ec"/>
<rect x="589.70" y="930.00" width="13.30" height="198.80" fill="#eac8e2"/>
<rect x="616.10" y="930.00" width="16.70" height="197.80" fill="#eac8e2"/>
<polyline points="68.8,1008.2 70.1,997.8 71.2,988.4 72.0,980.4 73.1,1001.6 74.5,994.0 75.8,984.6 76.9,977.0 77.9,992.1 78.8,1007.3 79.8,1022.4 80.5,1032.8 81.5,1014.8 82.2,1000.7 83.2,1014.8 84.3,1030.0 85.4,1041.3 86.7,1052.7 87.7,1062.1 88.6,1069.3 89.6,1056.4 90.9,1045.1 92.4,1033.8 93.7,1018.6 95.3,1001.6 96.6,984.6 97.7,972.9 99.6,972.9 100.6,984.6 101.9,999.7 103.2,1011.1 104.7,1015.8 106.0,1026.2 107.5,1035.6 108.5,1043.2 109.8,1052.1 111.3,1043.2 112.3,1033.8 113.6,1018.6 114.7,1003.5 115.7,994.0 116.6,988.7 118.0,994.0 119.5,995.0 120.8,999.7 121.7,1011.1 122.7,1024.3 124.0,1037.5 125.5,1039.4 127.0,1043.2 128.4,1039.4 129.7,1031.9 131.2,1022.4 132.7,1015.8 134.2,1014.5 135.5,1020.5 136.9,1030.0 137.8,1034.7 138.8,1022.4 139.7,1011.4 140.6,1022.4 141.6,1035.6 142.5,1048.9 143.9,1051.7 145.4,1054.6 146.7,1057.4 148.2,1050.8 149.5,1035.6 151.0,1018.6 152.4,1007.3 153.9,996.9 155.2,988.4 157.1,981.2 158.0,992.1 159.2,1003.5 160.1,1013.0 160.9,1021.5 161.8,1011.1 163.0,1009.2 164.1,1016.7 165.2,1024.3 166.6,1031.9 168.1,1036.6 169.6,1035.6 170.9,1034.7 172.4,1039.4 173.7,1047.0 175.1,1052.7 176.2,1041.3 177.1,1032.8 178.1,1030.9 179.4,1039.4 180.7,1047.0 182.2,1048.9 183.8,1049.8 185.1,1045.1 186.4,1040.9 187.9,1040.4 188.9,1047.0 190.3,1056.4 191.6,1043.2 192.9,1033.8 194.1,1026.2 195.2,1021.5 196.3,1035.6 197.7,1048.9 199.2,1051.7 200.1,1062.1 201.1,1069.3 202.6,1068.7 203.9,1065.0 205.2,1054.6 206.7,1043.2 208.1,1031.9 209.6,1014.8 210.9,1001.6 212.4,988.4 213.7,977.0 214.9,968.5 216.2,978.9 217.1,992.1 218.1,1007.3 219.0,1008.8 220.2,1008.2 220.9,1001.6 222.1,1010.1 222.6,1016.4 223.4,1005.4 224.1,1001.2 224.9,1007.3 225.7,1010.1 226.6,1002.0 227.5,1001.2 228.5,1013.0 229.4,1026.2 230.4,1043.2 231.0,1054.9 232.3,1035.6 233.4,1022.4 234.5,1014.8 235.7,1025.2 237.0,1035.6 238.3,1043.2 239.5,1052.3 240.4,1035.6 241.4,1020.5 242.7,1010.1 244.0,1001.2 245.1,1011.1 245.9,1020.5 246.8,1026.2 248.0,1028.1 249.3,1035.6 250.2,1037.5 251.2,1048.9 252.3,1065.9 253.1,1081.0 253.8,1090.1 255.0,1079.1 256.3,1069.7 257.4,1054.6 258.4,1043.2 259.3,1041.3 260.3,1042.3 261.2,1048.9 262.2,1043.2 263.5,1032.8 264.8,1029.0 266.3,1027.1 267.8,1027.1 269.2,1026.2 270.5,1022.4 272.0,1018.6 273.3,1011.1 274.3,1006.3 275.4,1010.1 276.3,1018.6 277.7,1028.1 278.8,1037.5 279.9,1046.6 281.1,1035.6 282.4,1020.5 283.7,1014.8 284.8,1013.0 285.8,1020.5 286.7,1028.1 287.7,1032.8 289.0,1031.9 290.3,1029.0 291.5,1027.1 292.8,1027.1 294.1,1031.9 295.2,1037.5 296.6,1026.2 297.9,1016.7 298.8,1022.4 300.0,1030.0 301.3,1032.8 302.6,1037.5 304.1,1034.7 305.5,1039.4 307.0,1041.3 308.3,1041.7 309.4,1047.0 311.6,1049.8 312.9,1050.8 313.9,1043.2 315.0,1048.9 316.3,1055.1 317.7,1050.8 318.6,1035.6 319.8,1024.3 321.1,1023.4 322.4,1026.2 323.5,1030.0 324.9,1030.9 326.2,1034.7 327.7,1034.7 329.0,1030.0 330.5,1029.0 331.5,1035.6 332.8,1040.4 334.3,1041.3 335.6,1047.0 337.1,1054.6 338.7,1061.2 340.4,1061.2 341.9,1058.3 343.2,1050.8 344.7,1046.0 346.2,1045.1 347.7,1043.2 349.1,1041.3 350.4,1040.4 351.3,1047.0 352.7,1041.3 353.8,1033.8 354.9,1026.2 356.4,1026.2 357.6,1033.8 358.9,1041.3 359.8,1046.0 361.4,1041.3 362.7,1043.2 364.0,1047.0 365.5,1050.8 366.8,1056.4 368.4,1057.4 369.3,1052.7 370.6,1052.3 371.8,1056.4 373.1,1053.6 374.4,1054.6 375.5,1062.1 376.9,1071.6 377.8,1080.1 378.8,1085.8 380.3,1084.8 381.6,1079.1 382.9,1073.5 384.4,1068.7 385.9,1064.0 386.9,1073.5 387.8,1084.8 388.8,1092.4 389.9,1095.2 391.0,1081.0 392.0,1062.1 392.9,1045.1 394.3,1046.0 395.4,1048.9 396.5,1062.1 398.0,1062.1 399.2,1054.6 400.5,1048.9 401.8,1048.5 403.3,1048.9 404.7,1052.7 406.2,1056.4 407.5,1057.4 408.6,1052.7 410.0,1048.9 411.3,1047.9 412.8,1050.8 414.3,1058.3 415.2,1048.9 416.6,1037.5 417.9,1031.9 419.0,1032.8 420.4,1037.5 421.5,1041.3 422.6,1038.5 424.1,1035.6 425.7,1036.6 427.0,1037.5 428.3,1037.9 430.3,1040.4 431.2,1041.3 432.2,1031.9 433.1,1016.7 434.1,1001.6 435.0,988.4 436.3,978.0 437.7,972.9 438.6,980.8 439.8,990.3 441.1,997.8 442.4,1003.5 443.9,1004.4 444.9,1022.4 445.8,1039.0 447.1,1028.1 448.6,1014.8 450.2,1003.5 451.5,999.7 452.8,996.9 453.9,1007.3 455.3,1018.6 456.2,1025.2 457.1,1014.8 458.1,1008.2 459.0,1014.8 460.0,1024.3 460.9,1033.8 462.1,1043.2 463.2,1052.7 464.7,1060.2 466.2,1065.0 467.5,1067.8 468.5,1071.6 469.4,1081.0 470.8,1086.7 471.9,1090.1 473.2,1084.8 474.5,1077.2 475.7,1067.8 477.0,1060.2 478.5,1052.7 479.8,1050.8 481.2,1047.0 482.3,1044.2 483.6,1050.8 484.8,1058.3 485.5,1067.8 486.3,1077.2 486.8,1083.9 487.4,1073.5 488.0,1063.1 488.7,1067.8 489.7,1073.5 490.4,1088.6 491.2,1100.9 492.1,1090.5 493.1,1073.5 494.0,1054.6 495.0,1035.6 495.9,1013.0 496.9,992.1 498.2,976.6 499.3,984.6 500.6,995.9 502.0,1007.3 503.1,1020.5 504.4,1017.7 505.7,1015.8 506.9,1018.6 507.8,1030.0 508.8,1041.3 510.1,1053.6 511.2,1041.3 512.6,1030.0 513.5,1022.4 514.4,1021.5 515.4,1026.2 516.7,1027.1 518.0,1029.0 519.2,1034.7 520.5,1037.5 521.8,1039.4 523.0,1043.2 524.3,1050.4 525.6,1047.9 527.1,1047.4 528.6,1047.9 530.0,1050.8 531.3,1056.4 532.8,1062.5 533.7,1056.4 534.7,1050.4 536.2,1050.4 537.5,1049.8 538.8,1048.9 539.8,1043.2 540.7,1030.0 541.9,1023.4 543.2,1021.5 544.1,1020.9 545.1,1035.6 546.0,1054.6 547.0,1070.1 547.9,1062.1 549.1,1050.8 550.6,1034.7 551.9,1027.4 552.8,1032.9 553.7,1036.5 555.0,1038.4 556.1,1025.5 557.0,1009.1 557.9,998.1 559.2,991.7 560.5,995.3 562.0,998.1 563.8,998.5 565.1,1001.7 566.0,1005.4 566.5,1018.2 567.1,1036.5 567.8,1051.2 568.7,1062.2 569.7,1069.5 570.6,1072.2 571.7,1069.5 572.9,1058.5 574.2,1042.0 575.3,1027.4 576.6,1018.2 578.1,1012.7 579.4,1010.0 580.6,1009.1 581.7,1016.4 583.0,1023.7 583.9,1032.9 584.8,1043.8 585.8,1054.8 586.9,1062.2 587.8,1065.4 588.9,1058.5 589.8,1043.8 590.9,1027.4 591.8,1012.7 593.1,999.9 594.4,992.6 595.8,986.2 597.1,987.1 598.6,984.4 600.0,983.8 601.0,990.8 602.2,998.1 603.5,1003.6 604.6,1009.1 605.9,1016.4 607.2,1021.0 608.6,1020.1 609.9,1016.4 611.4,1015.5 612.7,1018.2 614.1,1021.0 615.4,1021.9 616.5,1016.4 617.8,1007.2 619.1,996.3 620.2,985.3 621.5,976.1 622.7,967.0 624.2,960.2 625.7,963.3 626.9,972.5 628.2,981.6 629.1,990.8 630.1,996.3 631.0,993.5 632.1,998.1 633.0,1005.4 633.9,1014.6 634.8,1023.7 635.7,1031.0 636.5,1035.6 637.6,1027.4 638.8,1024.6 639.9,1023.7 641.2,1016.4 642.5,1005.4 643.8,992.6 644.9,979.8 646.2,968.2 647.1,981.6 648.0,996.3 648.9,1010.0 649.8,1003.6 650.6,1002.7 651.3,1014.6 652.4,1023.7 653.5,1029.2 654.6,1036.5 655.7,1047.5 656.8,1058.5 657.5,1067.3 658.6,1063.1 659.5,1064.0" fill="none" stroke="#1a2458" stroke-width="1.9" stroke-linejoin="round"/>
<path d="M68.8 1039.4C69.6 1040.2 71.9 1043.0 73.5 1044.2C75.1 1045.3 76.5 1045.7 78.2 1046.0C80.0 1046.4 82.0 1046.7 83.9 1046.0C85.8 1045.4 87.7 1044.0 89.6 1042.3C91.5 1040.5 93.4 1038.0 95.3 1035.6C97.1 1033.3 99.0 1030.1 100.9 1028.1C102.8 1026.0 104.7 1024.5 106.6 1023.4C108.5 1022.2 110.4 1021.5 112.3 1021.5C114.2 1021.5 116.1 1022.1 118.0 1023.4C119.8 1024.6 121.7 1027.3 123.6 1029.0C125.5 1030.8 127.4 1032.6 129.3 1033.8C131.2 1034.9 133.1 1035.5 135.0 1035.6C136.9 1035.7 138.8 1035.4 140.6 1034.3C142.5 1033.2 144.4 1031.2 146.3 1029.0C148.2 1026.9 150.1 1023.7 152.0 1021.5C153.9 1019.3 156.1 1016.9 157.7 1015.8C159.2 1014.7 160.0 1014.4 161.4 1014.8C162.9 1015.3 164.6 1016.7 166.2 1018.6C167.7 1020.5 169.2 1023.0 170.9 1026.2C172.6 1029.3 174.7 1034.1 176.6 1037.5C178.5 1041.0 180.5 1044.6 182.2 1047.0C184.0 1049.4 185.7 1050.7 187.0 1051.7C188.2 1052.7 188.5 1053.4 189.7 1053.0C191.0 1052.7 192.9 1051.5 194.5 1049.8C196.0 1048.2 197.6 1045.9 199.2 1043.2C200.8 1040.5 202.3 1037.2 203.9 1033.8C205.5 1030.3 207.1 1025.7 208.6 1022.4C210.2 1019.1 211.8 1015.9 213.4 1013.9C214.9 1011.8 216.5 1010.6 218.1 1010.1C219.7 1009.6 221.2 1009.7 222.8 1010.7C224.4 1011.6 226.0 1013.4 227.5 1015.8C229.1 1018.2 230.7 1021.9 232.3 1025.2C233.9 1028.6 235.4 1032.5 237.0 1035.6C238.6 1038.8 240.2 1041.8 241.7 1044.2C243.3 1046.5 244.9 1048.6 246.5 1049.8C248.0 1051.1 249.6 1051.6 251.2 1051.7C252.8 1051.9 254.3 1051.7 255.9 1050.8C257.5 1049.8 259.1 1047.9 260.6 1046.0C262.2 1044.2 263.8 1041.6 265.4 1039.4C266.9 1037.2 268.4 1034.9 270.1 1032.8C271.8 1030.8 273.9 1028.6 275.8 1027.1C277.7 1025.7 279.6 1024.6 281.4 1023.9C283.3 1023.2 285.2 1022.9 287.1 1022.8C289.0 1022.7 290.9 1022.9 292.8 1023.4C294.7 1023.8 296.6 1024.6 298.5 1025.2C300.4 1025.9 302.3 1026.5 304.1 1027.1C306.0 1027.8 308.0 1028.5 309.7 1029.0C311.4 1029.6 312.7 1030.2 314.5 1030.3C316.2 1030.5 318.2 1030.3 320.1 1030.0C322.0 1029.6 323.9 1028.9 325.8 1028.1C327.7 1027.3 329.6 1026.2 331.5 1025.2C333.4 1024.3 335.3 1023.2 337.1 1022.4C339.0 1021.6 341.1 1020.8 342.8 1020.5C344.6 1020.2 346.0 1020.1 347.5 1020.5C349.1 1020.9 350.5 1021.5 352.3 1022.8C354.0 1024.0 356.1 1026.1 358.0 1028.1C359.8 1030.1 361.7 1032.5 363.6 1034.7C365.5 1036.9 367.4 1039.3 369.3 1041.3C371.2 1043.4 373.1 1045.4 375.0 1047.0C376.9 1048.6 378.8 1049.8 380.6 1050.8C382.5 1051.7 384.4 1052.4 386.3 1052.7C388.2 1052.9 390.1 1052.8 392.0 1052.3C393.9 1051.8 395.8 1050.9 397.7 1049.8C399.6 1048.8 401.4 1047.5 403.3 1046.0C405.2 1044.6 407.1 1043.2 409.0 1041.3C410.9 1039.4 412.8 1037.2 414.7 1034.7C416.6 1032.2 418.6 1029.2 420.4 1026.2C422.1 1023.2 423.5 1019.4 425.1 1016.7C426.6 1014.1 428.2 1012.6 429.7 1010.1C431.3 1007.6 432.9 1003.8 434.5 1001.6C436.0 999.4 437.6 997.8 439.2 996.9C440.8 995.9 442.3 995.3 443.9 995.9C445.5 996.6 447.1 998.1 448.6 1000.7C450.2 1003.2 451.8 1007.0 453.4 1011.1C454.9 1015.2 456.5 1020.2 458.1 1025.2C459.7 1030.3 461.2 1036.4 462.8 1041.3C464.4 1046.2 466.0 1050.9 467.5 1054.6C469.1 1058.2 470.7 1061.1 472.3 1063.1C473.9 1065.0 475.4 1066.3 477.0 1066.3C478.6 1066.3 480.2 1065.2 481.7 1063.1C483.3 1061.0 484.9 1057.4 486.5 1053.6C488.0 1049.8 489.6 1044.9 491.2 1040.4C492.8 1035.8 494.3 1030.3 495.9 1026.2C497.5 1022.1 499.2 1018.2 500.6 1015.8C502.1 1013.4 503.2 1012.4 504.4 1011.6C505.7 1010.9 506.8 1010.7 508.2 1011.4C509.6 1012.1 511.4 1013.5 512.9 1015.8C514.5 1018.1 516.1 1022.1 517.7 1025.2C519.2 1028.4 520.8 1032.0 522.4 1034.7C524.0 1037.4 525.5 1039.6 527.1 1041.3C528.7 1043.0 530.3 1044.1 531.8 1044.7C533.4 1045.4 535.0 1045.7 536.6 1045.1C538.1 1044.5 539.7 1043.0 541.3 1041.3C542.9 1039.6 544.7 1037.0 546.0 1034.7C547.3 1032.4 547.9 1029.3 549.2 1027.4C550.4 1025.5 552.2 1024.3 553.7 1023.3C555.3 1022.4 556.8 1021.8 558.3 1021.9C559.8 1021.9 561.4 1022.5 562.9 1023.7C564.4 1024.9 565.9 1027.2 567.5 1029.2C569.0 1031.2 570.5 1033.8 572.0 1035.6C573.6 1037.4 575.1 1038.9 576.6 1040.2C578.1 1041.5 579.8 1042.8 581.2 1043.5C582.6 1044.2 583.5 1044.6 584.8 1044.2C586.2 1043.8 587.9 1042.7 589.4 1041.1C590.9 1039.5 592.5 1037.0 594.0 1034.7C595.5 1032.4 597.1 1029.7 598.6 1027.4C600.1 1025.1 601.6 1022.8 603.2 1021.0C604.7 1019.1 606.2 1017.5 607.7 1016.4C609.3 1015.3 610.9 1014.5 612.3 1014.2C613.7 1013.9 614.6 1013.9 616.0 1014.6C617.3 1015.2 618.9 1016.7 620.5 1018.2C622.2 1019.7 624.2 1021.9 626.0 1023.7C627.9 1025.5 629.7 1027.6 631.5 1029.2C633.4 1030.8 635.2 1032.4 637.0 1033.2C638.8 1034.1 640.7 1034.0 642.5 1034.3C644.3 1034.6 646.2 1034.8 648.0 1035.1C649.8 1035.4 651.8 1035.6 653.5 1036.2C655.2 1036.7 657.1 1037.8 658.1 1038.4C659.1 1038.9 659.3 1039.1 659.5 1039.3" fill="none" stroke="#b54fa3" stroke-width="2.8" stroke-linecap="butt" stroke-linejoin="round"/>
<line x1="68.6" y1="991.4" x2="658.9" y2="991.4" stroke="#383838" stroke-width="1.2"/>
<line x1="68.6" y1="1012.1" x2="658.9" y2="1012.1" stroke="#383838" stroke-width="1.2"/>
<line x1="68.6" y1="1032.5" x2="658.9" y2="1032.5" stroke="#383838" stroke-width="1.2"/>
<line x1="68.6" y1="1052.7" x2="658.9" y2="1052.7" stroke="#383838" stroke-width="1.2"/>
<line x1="68.6" y1="1072.9" x2="658.9" y2="1072.9" stroke="#383838" stroke-width="1.2"/>
<rect x="68.6" y="928.0" width="590.9" height="207.20000000000005" fill="none" stroke="#454545" stroke-width="1.25"/>
<path d="M88.30 1135.2v-2.7M107.99 1135.2v-2.7M127.69 1135.2v-2.7M147.39 1135.2v-2.7M167.08 1135.2v-3.9M186.78 1135.2v-2.7M206.48 1135.2v-2.7M226.17 1135.2v-2.7M245.87 1135.2v-2.7M265.57 1135.2v-3.9M285.26 1135.2v-2.7M304.96 1135.2v-2.7M324.66 1135.2v-2.7M344.35 1135.2v-2.7M364.05 1135.2v-3.9M383.75 1135.2v-2.7M403.44 1135.2v-2.7M423.14 1135.2v-2.7M442.84 1135.2v-2.7M462.53 1135.2v-3.9M482.23 1135.2v-2.7M501.93 1135.2v-2.7M521.62 1135.2v-2.7M541.32 1135.2v-2.7M561.02 1135.2v-3.9M580.71 1135.2v-2.7M600.41 1135.2v-2.7M620.11 1135.2v-2.7M639.80 1135.2v-2.7" stroke="#333" stroke-width="1" fill="none"/>
<path d="M68.6 979.80h5M68.6 1031.60h5M68.6 1083.40h5" stroke="#333" stroke-width="1.3" fill="none"/>
<text class="y" x="49.8" y="933.0" textLength="28.8" lengthAdjust="spacingAndGlyphs">-0.8</text>
<text class="y" x="49.8" y="985.0" textLength="28.8" lengthAdjust="spacingAndGlyphs">-0.4</text>
<text class="y" x="49.8" y="1037.0" textLength="23.2" lengthAdjust="spacingAndGlyphs">0.0</text>
<text class="y" x="49.8" y="1089.0" textLength="23.2" lengthAdjust="spacingAndGlyphs">0.4</text>
<text class="y" x="49.8" y="1140.0" textLength="23.2" lengthAdjust="spacingAndGlyphs">0.8</text>
<text class="p" x="80.5" y="958.2" textLength="28.3" lengthAdjust="spacingAndGlyphs">(e)</text>
<path d="M351.6 930.0L377.7 930.0L364.8 946.9Z" fill="#000"/>
<text class="b" x="541.6" y="1094" font-size="16.6">5-3</text>
<text class="b" x="541.6" y="1113" font-size="16.6">7.6 ka</text>
<path d="M524 63.5H456.5V59.8L445 65.7L456.5 71.6V68H524Z" fill="#000"/>
<text class="b" x="424.6" y="91" font-size="16.7">growth direction</text>
<path d="M265.9 1104.2V1134.5M364.9 1107.2V1134.5" stroke="#111" stroke-width="1.2" fill="none"/>
<path d="M272 1123.6H359" stroke="#000" stroke-width="1.2" fill="none"/>
<path d="M266.3 1123.6l8 -4v8ZM364.4 1123.6l-8 -4v8Z" fill="#000"/>
<text class="b" x="288.0" y="1113.6" font-size="16.8">5 years</text>
</svg>
</body></html>
